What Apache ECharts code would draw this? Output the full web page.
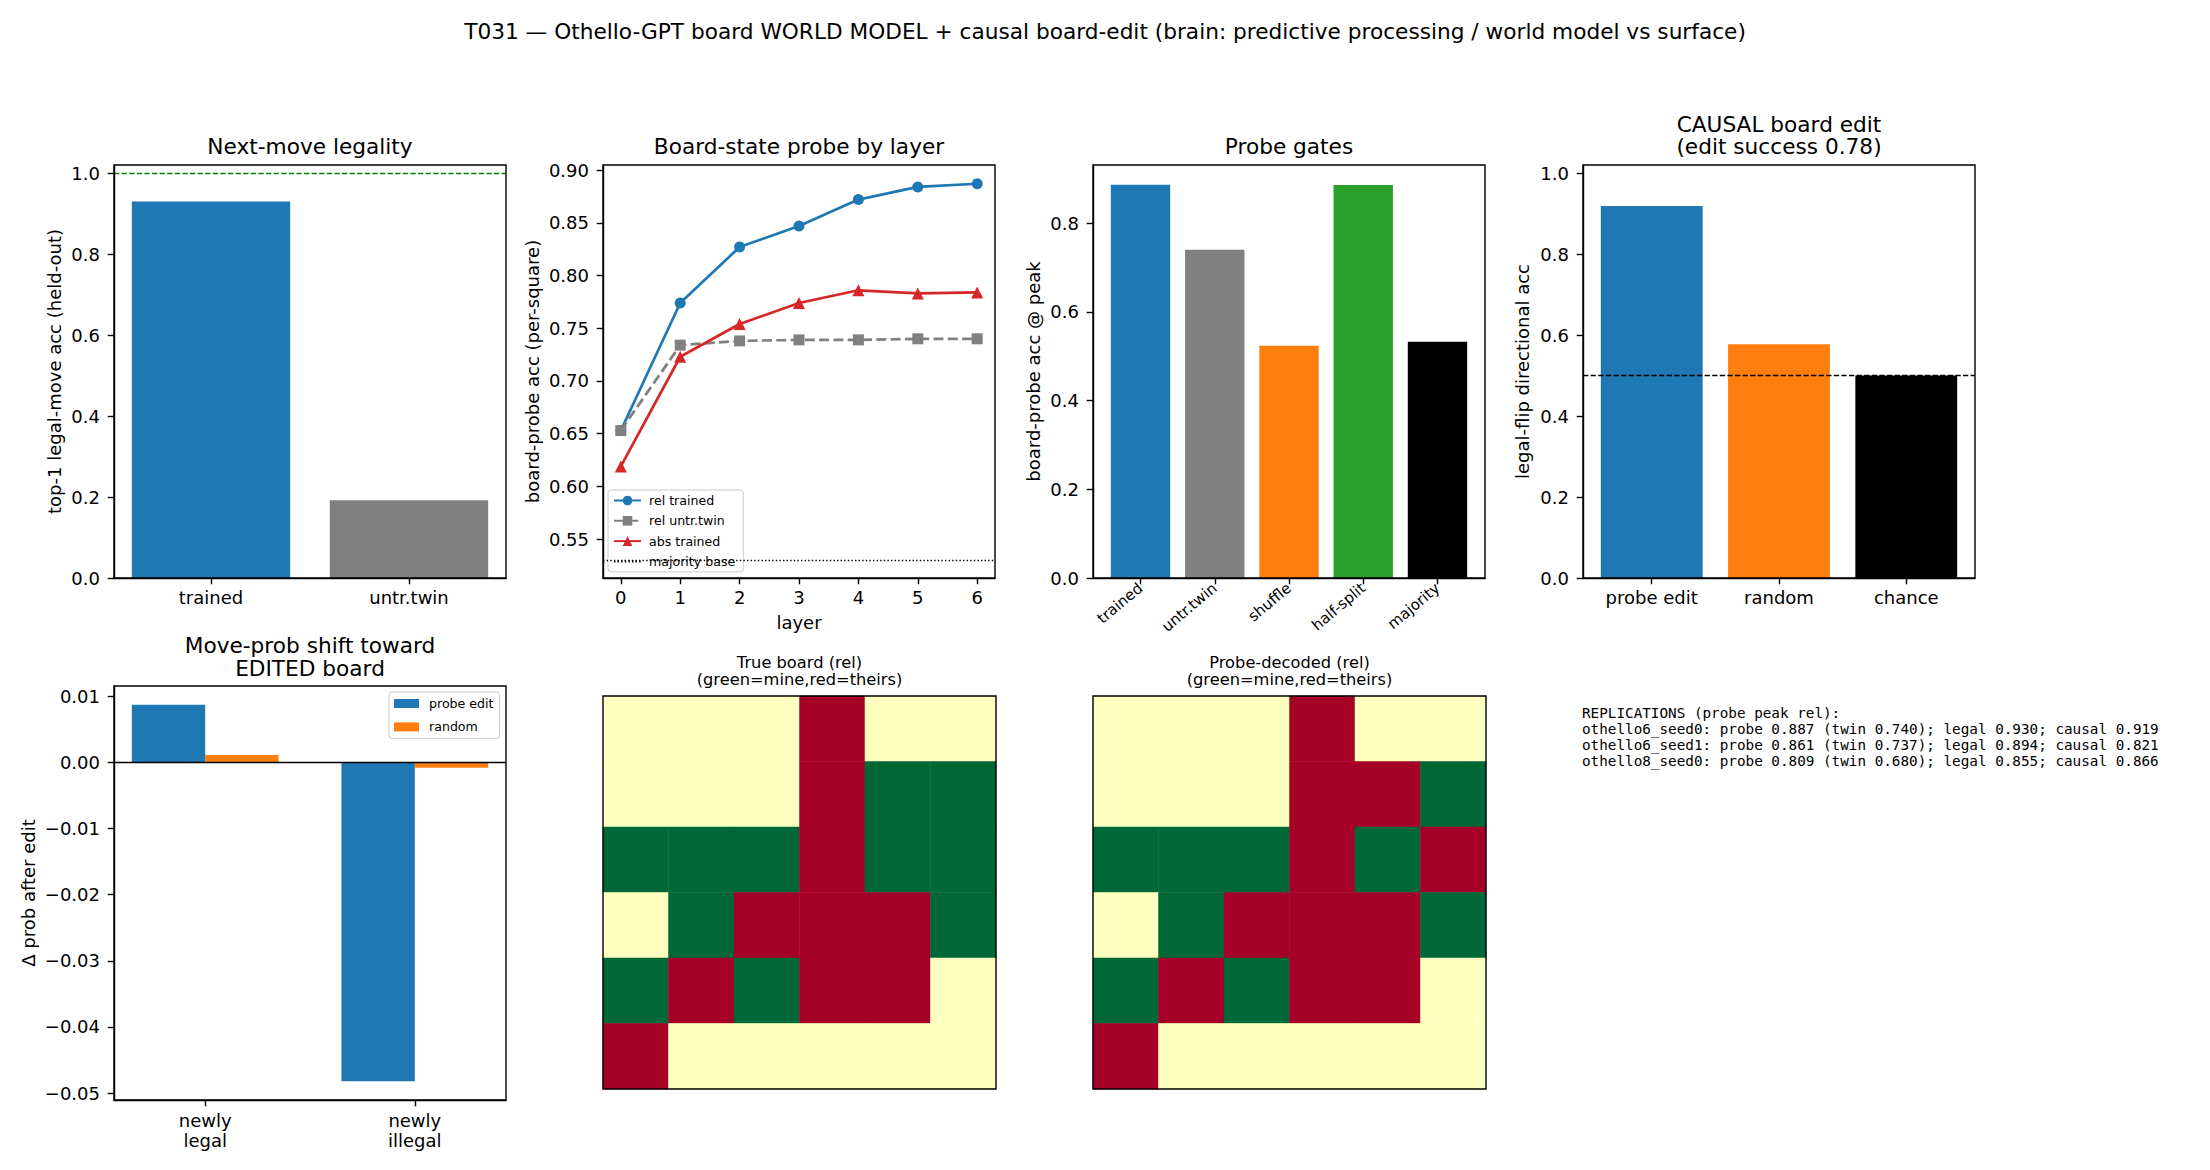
<!DOCTYPE html>
<html lang="en">
<head>
<meta charset="UTF-8">
<title>T031 Othello-GPT board world model</title>
<script src="https://cdn.jsdelivr.net/npm/echarts@6.0.0/dist/echarts.min.js"></script>
<style>
  html, body { margin: 0; padding: 0; background: #fff; }
  #main { width: 2210px; height: 1170px; }
</style>
</head>
<body>
<div id="main"></div>
<script>
// ---- values ----
var legalCats = ['trained', 'untr.twin'];
var legalVals = [0.930, 0.192];
var legalTicks = [0, 0.2, 0.4, 0.6, 0.8, 1.0];
var perfectLine = 1.0;

var layers = [0, 1, 2, 3, 4, 5, 6];
var relTrained = [0.653, 0.774, 0.827, 0.847, 0.872, 0.884, 0.887];
var relTwin    = [0.653, 0.734, 0.738, 0.739, 0.739, 0.740, 0.740];
var absTrained = [0.619, 0.723, 0.754, 0.774, 0.786, 0.783, 0.784];
var majorityBase = 0.531;
var probeTicks = [0.55, 0.60, 0.65, 0.70, 0.75, 0.80, 0.85, 0.90];

var gateCats = ['trained', 'untr.twin', 'shuffle', 'half-split', 'majority'];
var gateVals = [0.887, 0.740, 0.524, 0.886, 0.533];
var gateTicks = [0, 0.2, 0.4, 0.6, 0.8];

var causalCats = ['probe edit', 'random', 'chance'];
var causalVals = [0.919, 0.577, 0.500];
var causalTicks = [0, 0.2, 0.4, 0.6, 0.8, 1.0];
var chanceLine = 0.5;
var editSuccess = 0.78;

var shiftCats = ['newly\nlegal', 'newly\nillegal'];
var shiftProbe  = [0.0087, -0.0482];
var shiftRandom = [0.0011, -0.0008];
var shiftTicks = [-0.05, -0.04, -0.03, -0.02, -0.01, 0, 0.01];

// 1 = mine (green), -1 = theirs (red), 0 = empty
var trueBoard = [
  [ 0,  0,  0, -1,  0,  0],
  [ 0,  0,  0, -1,  1,  1],
  [ 1,  1,  1, -1,  1,  1],
  [ 0,  1, -1, -1, -1,  1],
  [ 1, -1,  1, -1, -1,  0],
  [-1,  0,  0,  0,  0,  0]
];
var decodedBoard = [
  [ 0,  0,  0, -1,  0,  0],
  [ 0,  0,  0, -1, -1,  1],
  [ 1,  1,  1, -1,  1, -1],
  [ 0,  1, -1, -1, -1,  1],
  [ 1, -1,  1, -1, -1,  0],
  [-1,  0,  0,  0,  0,  0]
];

var replications = [
  'REPLICATIONS (probe peak rel):',
  'othello6_seed0: probe 0.887 (twin 0.740); legal 0.930; causal 0.919',
  'othello6_seed1: probe 0.861 (twin 0.737); legal 0.894; causal 0.821',
  'othello8_seed0: probe 0.809 (twin 0.680); legal 0.855; causal 0.866'
];

// ---- styling ----
var FONT = 'DejaVu Sans';
var BLACK = '#000000';
var SPINE = 1.4;
var BLUE = '#1f77b4', ORANGE = '#ff7f0e', GREEN = '#2ca02c', RED = '#d62728', GRAY = '#808080';
var legalColors = [BLUE, GRAY];
var gateColors = [BLUE, GRAY, ORANGE, GREEN, BLACK];
var causalColors = [BLUE, ORANGE, BLACK];

var boxes = [
  { left: 114,  top: 165, width: 392, height: 413 },
  { left: 603,  top: 165, width: 392, height: 413 },
  { left: 1093, top: 165, width: 392, height: 413 },
  { left: 1583, top: 165, width: 392, height: 413 },
  { left: 114,  top: 686, width: 392, height: 414 },
  { left: 603,  top: 696, width: 393, height: 393 },
  { left: 1093, top: 696, width: 393, height: 393 }
];

// matplotlib style autoscale with 5% margins
function padRange(lo, hi, stickyZero) {
  var p = (hi - lo) * 0.05;
  var a = lo - p, b = hi + p;
  if (stickyZero && lo === 0) a = 0;
  return [a, b];
}
function barLim(n, w) { return padRange(-w / 2, n - 1 + w / 2); }
// bar width in data units -> pixels on a given panel
function barPx(box, lim, w) { return w * box.width / (lim[1] - lim[0]); }

function fmt(d) {
  return function (v) {
    var s = Math.abs(v).toFixed(d);
    return (v < -1e-12 ? '\u2212' : '') + s;
  };
}

function valueAxis(o) {
  var a = {
    gridIndex: o.grid, type: 'value', min: o.min, max: o.max, z: 10,
    splitLine: { show: false }, splitArea: { show: false },
    axisLine: { show: true, onZero: false, lineStyle: { color: BLACK, width: SPINE } },
    axisTick: { show: true, inside: false, length: 6.3, lineStyle: { color: BLACK, width: SPINE }, customValues: o.ticks },
    axisLabel: {
      show: true, customValues: o.ticks, formatter: o.formatter, color: BLACK,
      fontFamily: FONT, fontSize: o.fontSize || 18, margin: o.margin, rotate: o.rotate || 0,
      lineHeight: o.lineHeight
    }
  };
  if (o.name) {
    a.name = o.name; a.nameLocation = 'middle'; a.nameGap = o.nameGap;
    a.nameTextStyle = { color: BLACK, fontFamily: FONT, fontSize: 18 };
  }
  return a;
}
function catFormatter(cats) { return function (v) { return cats[Math.round(v)]; }; }

var legalX = barLim(legalCats.length, 0.8);
var gateX = barLim(gateCats.length, 0.8);
var causalX = barLim(causalCats.length, 0.8);
var shiftX = padRange(-0.35, shiftCats.length - 1 + 0.35);
var layerX = padRange(layers[0], layers[layers.length - 1]);
var allProbe = relTrained.concat(relTwin, absTrained, [majorityBase]);
var probeY = padRange(Math.min.apply(null, allProbe), Math.max.apply(null, allProbe));
var gateY = padRange(0, Math.max.apply(null, gateVals), true);
var allShift = shiftProbe.concat(shiftRandom);
var shiftY = padRange(Math.min.apply(null, allShift), Math.max.apply(null, allShift));

var idx = function (arr) { return arr.map(function (_, i) { return i; }); };

var xAxes = [
  valueAxis({ grid: 0, min: legalX[0], max: legalX[1], ticks: idx(legalCats), formatter: catFormatter(legalCats), margin: 10 }),
  valueAxis({ grid: 1, min: layerX[0], max: layerX[1], ticks: layers, formatter: function (v) { return String(Math.round(v)); }, margin: 10, name: 'layer', nameGap: 35 }),
  valueAxis({ grid: 2, min: gateX[0], max: gateX[1], ticks: idx(gateCats), formatter: catFormatter(gateCats), margin: 8, rotate: 40, fontSize: 15 }),
  valueAxis({ grid: 3, min: causalX[0], max: causalX[1], ticks: idx(causalCats), formatter: catFormatter(causalCats), margin: 10 }),
  valueAxis({ grid: 4, min: shiftX[0], max: shiftX[1], ticks: idx(shiftCats), formatter: catFormatter(shiftCats), margin: 10, lineHeight: 20 }),
  { gridIndex: 5, type: 'category', data: ['0','1','2','3','4','5'], show: false },
  { gridIndex: 6, type: 'category', data: ['0','1','2','3','4','5'], show: false }
];
var yAxes = [
  valueAxis({ grid: 0, min: 0, max: 1.02, ticks: legalTicks, formatter: fmt(1), margin: 14, name: 'top-1 legal-move acc (held-out)', nameGap: 51 }),
  valueAxis({ grid: 1, min: probeY[0], max: probeY[1], ticks: probeTicks, formatter: fmt(2), margin: 14, name: 'board-probe acc (per-square)', nameGap: 62 }),
  valueAxis({ grid: 2, min: gateY[0], max: gateY[1], ticks: gateTicks, formatter: fmt(1), margin: 14, name: 'board-probe acc @ peak', nameGap: 51 }),
  valueAxis({ grid: 3, min: 0, max: 1.02, ticks: causalTicks, formatter: fmt(1), margin: 14, name: 'legal-flip directional acc', nameGap: 52 }),
  valueAxis({ grid: 4, min: shiftY[0], max: shiftY[1], ticks: shiftTicks, formatter: fmt(2), margin: 14, name: '\u0394 prob after edit', nameGap: 77 }),
  { gridIndex: 5, type: 'category', data: ['0','1','2','3','4','5'], inverse: true, show: false },
  { gridIndex: 6, type: 'category', data: ['0','1','2','3','4','5'], inverse: true, show: false }
];

function colouredBars(vals, colors) {
  return vals.map(function (v, i) { return { value: [i, v], itemStyle: { color: colors[i] } }; });
}
function hline(value, color, type) {
  return {
    silent: true, symbol: 'none', animation: false,
    label: { show: false },
    lineStyle: { color: color, width: SPINE, type: type },
    emphasis: { disabled: true },
    data: [{ yAxis: value }]
  };
}
function lineSeries(name, vals, color, symbol, size, dashed) {
  return {
    type: 'line', name: name, xAxisIndex: 1, yAxisIndex: 1,
    data: layers.map(function (l, i) { return [l, vals[i]]; }),
    symbol: symbol, symbolSize: size, showSymbol: true,
    itemStyle: { color: color },
    lineStyle: { color: color, width: 2.7, type: dashed ? [10, 4.3] : 'solid' },
    emphasis: { disabled: true }
  };
}
function boardData(board) {
  var out = [];
  board.forEach(function (row, r) { row.forEach(function (v, c) { out.push([c, r, v]); }); });
  return out;
}

var series = [
  { type: 'bar', name: 'legal', xAxisIndex: 0, yAxisIndex: 0, barWidth: barPx(boxes[0], legalX, 0.8),
    data: colouredBars(legalVals, legalColors), markLine: hline(perfectLine, '#008000', [5.3, 2.3]) },
  lineSeries('rel trained', relTrained, BLUE, 'circle', 11, false),
  lineSeries('rel untr.twin', relTwin, GRAY, 'rect', 11, true),
  lineSeries('abs trained', absTrained, RED, 'triangle', 12, false),
  { type: 'line', name: 'majority base', xAxisIndex: 1, yAxisIndex: 1, data: [], symbol: 'none',
    itemStyle: { color: BLACK }, lineStyle: { color: BLACK, width: 1.2, type: [1.4, 2.2] },
    markLine: hline(majorityBase, BLACK, [1.4, 2.2]) },
  { type: 'bar', name: 'gates', xAxisIndex: 2, yAxisIndex: 2, barWidth: barPx(boxes[2], gateX, 0.8),
    data: colouredBars(gateVals, gateColors) },
  { type: 'bar', name: 'causal', xAxisIndex: 3, yAxisIndex: 3, barWidth: barPx(boxes[3], causalX, 0.8),
    data: colouredBars(causalVals, causalColors), markLine: hline(chanceLine, BLACK, [5.3, 2.3]) },
  { type: 'bar', name: 'probe edit', xAxisIndex: 4, yAxisIndex: 4, barWidth: barPx(boxes[4], shiftX, 0.35), barGap: '-100%',
    itemStyle: { color: BLUE },
    data: shiftProbe.map(function (v, i) { return [i - 0.175, v]; }) },
  { type: 'bar', name: 'random', xAxisIndex: 4, yAxisIndex: 4, barWidth: barPx(boxes[4], shiftX, 0.35), barGap: '-100%',
    itemStyle: { color: ORANGE },
    data: shiftRandom.map(function (v, i) { return [i + 0.175, v]; }),
    markLine: hline(0, BLACK, 'solid') },
  { type: 'heatmap', name: 'true board', xAxisIndex: 5, yAxisIndex: 5, data: boardData(trueBoard),
    itemStyle: { borderWidth: 0 }, emphasis: { disabled: true } },
  { type: 'heatmap', name: 'decoded board', xAxisIndex: 6, yAxisIndex: 6, data: boardData(decodedBoard),
    itemStyle: { borderWidth: 0 }, emphasis: { disabled: true } }
];

function txt(x, y, text, size, extra) {
  return {
    type: 'text', x: x, y: y, silent: true, z: 100,
    style: Object.assign({
      text: text, fill: BLACK, font: size + 'px "' + FONT + '"',
      align: 'center', verticalAlign: 'middle'
    }, extra || {})
  };
}

var option = {
  animation: false,
  backgroundColor: '#ffffff',
  textStyle: { fontFamily: FONT },
  grid: boxes.map(function (b) {
    return Object.assign({ show: true, z: 10, borderColor: BLACK, borderWidth: SPINE,
      backgroundColor: 'transparent', containLabel: false, outerBoundsMode: 'none' }, b);
  }),
  xAxis: xAxes,
  yAxis: yAxes,
  legend: [
    { data: ['rel trained', 'rel untr.twin', 'abs trained',
             { name: 'majority base', itemStyle: { opacity: 0 } }],
      orient: 'vertical', left: 608, top: 490, padding: [4, 8, 4, 5],
      itemWidth: 27, itemHeight: 12, itemGap: 7.3, selectedMode: false,
      borderColor: '#cccccc', borderWidth: 1, borderRadius: 3, backgroundColor: 'rgba(255,255,255,0.8)',
      textStyle: { color: BLACK, fontFamily: FONT, fontSize: 12.6, padding: [0, 0, 0, 3] } },
    { data: ['probe edit', 'random'], icon: 'rect',
      orient: 'vertical', left: 389, top: 692, padding: [5, 6, 5, 5],
      itemWidth: 25, itemHeight: 9, itemGap: 10.4, selectedMode: false,
      borderColor: '#cccccc', borderWidth: 1, borderRadius: 3, backgroundColor: 'rgba(255,255,255,0.8)',
      textStyle: { color: BLACK, fontFamily: FONT, fontSize: 12.6, padding: [0, 0, 0, 5] } }
  ],
  visualMap: [{
    type: 'piecewise', show: false, seriesIndex: [9, 10], dimension: 2,
    pieces: [
      { value: -1, color: '#a50026' },
      { value: 0, color: '#ffffbf' },
      { value: 1, color: '#006837' }
    ]
  }],
  series: series,
  graphic: { elements: [
    txt(1105, 31.5, 'T031 \u2014 Othello-GPT board WORLD MODEL + causal board-edit (brain: predictive processing / world model vs surface)', 21.67),
    txt(310, 146.5, 'Next-move legality', 21.67),
    txt(799, 146.5, 'Board-state probe by layer', 21.67),
    txt(1289, 146.5, 'Probe gates', 21.67),
    txt(1779, 135.3, 'CAUSAL board edit\n(edit success ' + editSuccess.toFixed(2) + ')', 21.67, { lineHeight: 22.5 }),
    txt(310, 656.8, 'Move-prob shift toward\nEDITED board', 21.67, { lineHeight: 22.5 }),
    txt(799.5, 671, 'True board (rel)\n(green=mine,red=theirs)', 16.25, { lineHeight: 16.6 }),
    txt(1289.5, 671, 'Probe-decoded (rel)\n(green=mine,red=theirs)', 16.25, { lineHeight: 16.6 }),
    txt(1582, 737.2, replications.join('\n'), 14.3, { align: 'left', lineHeight: 15.9, font: '14.3px "DejaVu Sans Mono"' })
  ] }
};

var chart = echarts.init(document.getElementById('main'), null, { renderer: 'svg', width: 2210, height: 1170 });
chart.setOption(option);
</script>
</body>
</html>
